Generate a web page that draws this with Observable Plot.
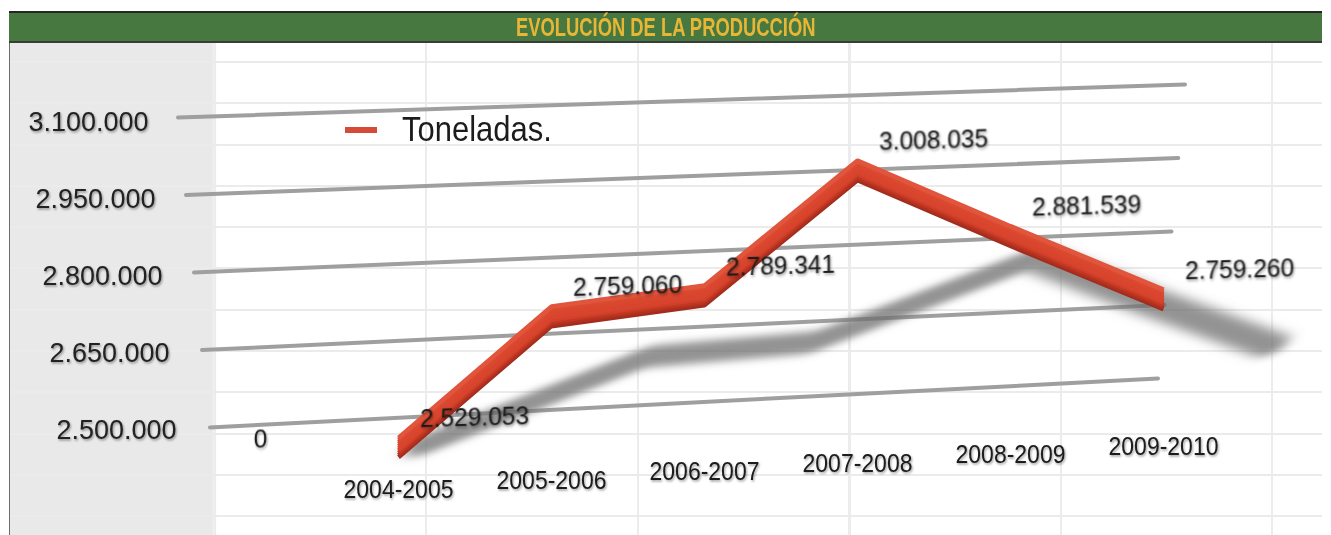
<!DOCTYPE html>
<html>
<head>
<meta charset="utf-8">
<script src="https://cdn.jsdelivr.net/npm/d3@7"></script>
<script src="https://cdn.jsdelivr.net/npm/@observablehq/plot@0.6"></script>
<style>
html, body { margin: 0; padding: 0; background: #fff; width: 1331px; height: 535px; overflow: hidden; position: relative; font-family: "Liberation Sans", Arial, sans-serif; }
#header { position: absolute; left: 9px; top: 11px; width: 1313px; height: 28px; background: #46783f;
  border-top: 2px solid #262626; border-bottom: 2px solid #3b3b3b; text-align: center; }
#header span { display: inline-block; color: #e8b637; font-family: "Liberation Sans", Arial, sans-serif; font-weight: bold;
  font-size: 25px; line-height: 29px; transform: scale(0.735, 1); transform-origin: 50% 50%; white-space: nowrap; }
#panel { position: absolute; left: 9px; top: 43px; width: 1312px; height: 492px; border-left: 1px solid #6d6d6d;
  background:
    repeating-linear-gradient(to bottom, transparent 0 18px, #ebebeb 18px 20px, transparent 20px 41.3px),
    repeating-linear-gradient(to right, transparent 0 204px, #ececec 204px 206px, transparent 206px 211.5px),
    linear-gradient(to right, #e9e9e9 0 202px, #f3f3f3 204px, #ffffff 207px); }
#chart { position: absolute; left: 0; top: 42px; }
#legend-swatch { position: absolute; left: 345px; top: 127px; width: 32px; height: 6px; background: #d54b38; }
#legend-text { position: absolute; left: 402px; top: 114.7px; font-size: 31px; line-height: 31px; color: #1c1c1c;
  transform: scale(1, 1.15); transform-origin: 0 26.3px; white-space: nowrap; }
</style>
</head>
<body>
<div id="header"><span id="title"></span></div>
<div id="panel"></div>
<div id="chart"></div>
<div id="legend-swatch"></div>
<div id="legend-text"></div>
<script>
// ---- data ----
const title = "EVOLUCIÓN DE LA PRODUCCIÓN";
const seriesName = "Toneladas.";
const categories = ["", "2004-2005", "2005-2006", "2006-2007", "2007-2008", "2008-2009", "2009-2010"];
const toneladas = [0, 2529053, 2759060, 2789341, 3008035, 2881539, 2759260];
const yTicks = [2500000, 2650000, 2800000, 2950000, 3100000];

document.getElementById("title").textContent = title;
document.getElementById("legend-text").textContent = seriesName;

const fmt = d => d3.format(",")(d).replace(/,/g, ".");
const rows = categories.map((c, i) => ({i, cat: c, v: toneladas[i]}));
const pts = rows.filter(d => d.v > 0);
const zero = rows.filter(d => d.v === 0);
const cats = rows.filter(d => d.cat !== "");

const ribbon = [
  {dy: 9, c: "#a22c1d"}, {dy: 7, c: "#b1311f"}, {dy: 5, c: "#c23722"}, {dy: 3, c: "#d0402a"},
  {dy: 1, c: "#d8442d"}, {dy: -1, c: "#d8442d"}, {dy: -3, c: "#d9462e"}, {dy: -5, c: "#da472f"},
  {dy: -7, c: "#db4930"}, {dy: -9, c: "#e0553c"}
];

const svg = Plot.plot({
  width: 1331, height: 493,
  marginTop: 80, marginBottom: 105, marginLeft: 168.5, marginRight: 137.4,
  style: {background: "transparent", fontFamily: "Liberation Sans, Arial, sans-serif", overflow: "visible"},
  x: {type: "linear", domain: [-0.5, 6.2], axis: null},
  y: {domain: [2500000, 3100000], axis: null, clamp: true},
  marks: [
    Plot.ruleY(yTicks, {stroke: "#9f9f9f", strokeWidth: 4, strokeLinecap: "round"}),
    Plot.text(yTicks, {y: d => d, text: fmt, frameAnchor: "left", textAnchor: "end", dx: -20.5, fontSize: 27, fill: "#222"}),
    Plot.line(pts, {x: "i", y: "v", stroke: "#6f6f6f", strokeWidth: 32, strokeOpacity: 0.75, strokeLinejoin: "round"}),
    ...ribbon.map(r => Plot.line(pts, {x: "i", y: "v", stroke: r.c, strokeWidth: 4.5, dy: r.dy, strokeLinejoin: "miter", strokeLinecap: "butt"})),
    Plot.text(pts, {x: "i", y: "v", text: d => fmt(d.v), dx: 76, dy: -26, fontSize: 24.5, fill: "#1a1a1a"}),
    Plot.text(zero, {x: "i", y: "v", text: d => fmt(d.v), dx: 15, dy: -26, fontSize: 24.5, fill: "#1a1a1a"}),
    Plot.text(cats, {x: "i", text: "cat", frameAnchor: "bottom", dy: 67, fontSize: 23, fill: "#1a1a1a"})
  ]
});
document.getElementById("chart").appendChild(svg);

// ---- perspective styling (visual only) ----
const NS = "http://www.w3.org/2000/svg";
const defs = d3.select(svg).insert("defs", ":first-child");
defs.append("filter").attr("id", "blurS").attr("x", "-20%").attr("y", "-60%").attr("width", "140%").attr("height", "220%")
  .append("feGaussianBlur").attr("stdDeviation", 7);
defs.append("filter").attr("id", "soft").attr("filterUnits", "userSpaceOnUse")
  .attr("x", -100).attr("y", -100).attr("width", 1600).attr("height", 800)
  .append("feGaussianBlur").attr("stdDeviation", 0.6);
defs.append("filter").attr("id", "tshadow").attr("x", "-10%").attr("y", "-30%").attr("width", "120%").attr("height", "160%")
  .append("feDropShadow").attr("dx", 1).attr("dy", 1.5).attr("stdDeviation", 1.3)
  .attr("flood-color", "#000").attr("flood-opacity", 0.4);

const groups = Array.from(svg.children).filter(n => n.tagName.toLowerCase() === "g");
function wrap(node, transform) {
  const g = document.createElementNS(NS, "g");
  g.setAttribute("transform", transform);
  node.parentNode.insertBefore(g, node);
  g.appendChild(node);
  return g;
}
const parseT = el => {
  const m = /translate\(([-\d.e]+),\s*([-\d.e]+)\)/.exec(el.getAttribute("transform") || "");
  return m ? [+m[1], +m[2]] : [0, 0];
};
const T = "matrix(1,-0.0275,0,1.0754,0,14.68)";
const S = "matrix(1,0,-0.55,0.675,247.75,129.35)";

// gridlines: tilted
const grid = groups[0];
grid.querySelectorAll("line").forEach(l => {
  const py = +l.getAttribute("y1");
  const t = (py - 80) / 308;
  const y1 = py - 5 + 2 * t;
  l.setAttribute("x1", 178 + 32 * t);
  l.setAttribute("x2", 1185 - 27 * t);
  l.setAttribute("y1", y1);
  l.setAttribute("y2", y1 - (33 + 16 * t));
});
grid.setAttribute("filter", "url(#soft)");

// y labels lean
const yl = groups[1];
yl.querySelectorAll("text").forEach(el => {
  const [, y] = parseT(el);
  const t = (y - 80) / 308;
  el.setAttribute("transform", el.getAttribute("transform") + ` translate(${28 * t},0) scale(1,1.04)`);
});
yl.setAttribute("filter", "url(#tshadow)");

// shadow
const sh = wrap(wrap(groups[2], T), S);
sh.setAttribute("filter", "url(#blurS)");
// ribbon
for (let k = 0; k < ribbon.length; k++) wrap(groups[3 + k], T);
// labels
const nl = 3 + ribbon.length;
wrap(groups[nl], T).setAttribute("filter", "url(#tshadow)");
wrap(groups[nl + 1], T).setAttribute("filter", "url(#tshadow)");
// category labels lean
const cl = groups[nl + 2];
cl.querySelectorAll("text").forEach(el => {
  const [x] = parseT(el);
  el.setAttribute("transform", el.getAttribute("transform") + ` translate(0,${-0.056 * (x - 398)}) scale(1,1.15)`);
});
cl.setAttribute("filter", "url(#tshadow)");
</script>
</body>
</html>
